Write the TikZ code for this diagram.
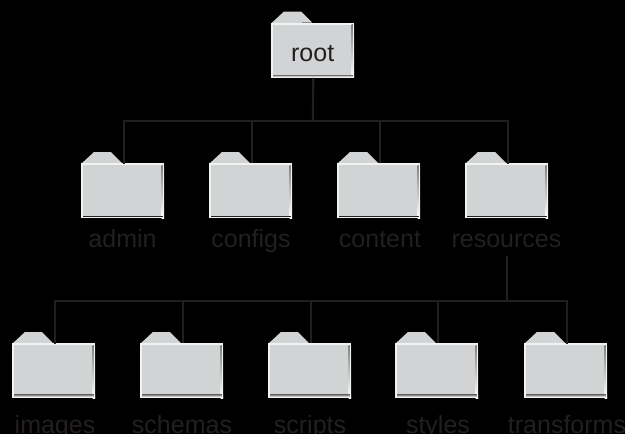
\documentclass[tikz,border=0pt]{standalone}
\usepackage{fontspec}
\setmainfont{Liberation Sans}
\definecolor{ink}{HTML}{231F20}
\definecolor{face}{HTML}{D1D3D4}
\definecolor{lite}{HTML}{F1F2F2}
\definecolor{shade}{HTML}{808285}
\tikzset{
  folderbody/.style={anchor=north west,minimum width=83pt,minimum height=55pt,inner sep=0pt,fill=face,text=ink,font=\fontsize{25}{28}\selectfont},
  foldername/.style={anchor=base,inner sep=0pt,text=ink,text depth=9pt,font=\fontsize{25}{28}\selectfont},
  wire/.style={draw=ink,line width=2.2pt},
}
% #1 name, #2 left, #3 top, #4 text inside, #5 bottom band colour, #6 band height
\newcommand{\fld}[6]{%
  \fill[face] (#2,#3+1) -- (#2+13,#3-11) -- (#2+30,#3-11) -- (#2+41,#3) -- cycle;
  \node[folderbody] (#1) at (#2,#3) {#4};
  \fill[lite] (#2,#3) rectangle (#2+83,#3+2);
  \fill[lite] (#2,#3) rectangle (#2+2.3,#3+55);
  \fill[shade] (#2+80.5,#3+2) rectangle (#2+83,#3+55);
  \fill[#5] (#2+2,#3+54.2-#6) rectangle (#2+83,#3+54.2);
  \fill[lite] (#2,#3+54.2) rectangle (#2+83,#3+55);
  \fill[lite] (#2+82.4,#3+1) rectangle (#2+83,#3+55);
}
\begin{document}
\begin{tikzpicture}[x=1pt,y=-1pt]
\path[use as bounding box,fill=black] (0,0) rectangle (625,434);
\clip (0,0) rectangle (625,434);
\fld{root}{271}{22.5}{\raisebox{-3pt}[\height][0pt]{root}}{shade}{1.5}
\fld{admin}{81}{163}{}{ink}{1}
\fld{configs}{209}{163}{}{ink}{1}
\fld{content}{337}{163}{}{ink}{1}
\fld{resources}{465}{163}{}{ink}{1}
\fld{images}{12}{343}{}{shade}{2.5}
\fld{schemas}{140}{343}{}{shade}{2.5}
\fld{scripts}{268}{343}{}{shade}{2.5}
\fld{styles}{395}{343}{}{shade}{2.5}
\fld{transforms}{524}{343}{}{shade}{2.5}
\node[foldername] (ladmin) at (122.5,247) {admin};
\node[foldername] (lconfigs) at (251,247) {configs};
\node[foldername] (lcontent) at (380,247) {content};
\node[foldername] (lresources) at (506.5,247) {resources};
\node[foldername] (limages) at (55,433) {images};
\node[foldername] (lschemas) at (182,433) {schemas};
\node[foldername] (lscripts) at (310,433) {scripts};
\node[foldername] (lstyles) at (438,433) {styles};
\node[foldername] (ltransforms) at (567,433) {transforms};
\coordinate (busa) at (313,121);
\coordinate (busb) at (507,301);
\draw[wire] (root.south) ++(0.5,0) -- (busa);
\draw[wire,line cap=rect] ([xshift=1.5pt]admin.north) -- ([xshift=1.5pt]admin.north |- busa) -- ([xshift=1.5pt]resources.north |- busa) -- ([xshift=1.5pt]resources.north);
\foreach \n in {configs,content}
  \draw[wire] ([xshift=1.5pt]\n.north) -- ([xshift=1.5pt]\n.north |- busa);
\draw[wire] ([xshift=0.5pt]lresources.south) -- (busb);
\draw[wire,line cap=rect] ([xshift=1.5pt]images.north) -- ([xshift=1.5pt]images.north |- busb) -- ([xshift=1.5pt]transforms.north |- busb) -- ([xshift=1.5pt]transforms.north);
\foreach \n in {schemas,scripts,styles}
  \draw[wire] ([xshift=1.5pt]\n.north) -- ([xshift=1.5pt]\n.north |- busb);
\end{tikzpicture}
\end{document}
